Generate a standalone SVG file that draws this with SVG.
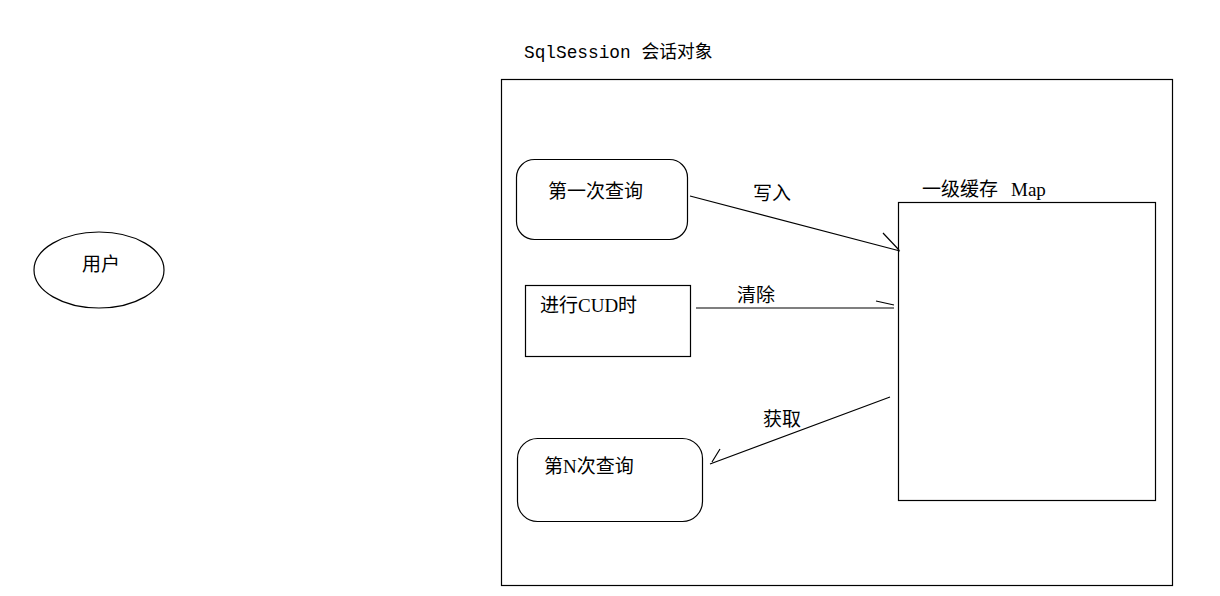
<svg xmlns="http://www.w3.org/2000/svg" width="1220" height="596" viewBox="0 0 1220 596">
<style>
.s{fill:none;stroke:#000;stroke-width:1.2}
.t{font-family:"Liberation Serif","Noto Sans CJK SC",serif;font-size:19px;fill:#000}
.m{font-family:"Liberation Mono","Noto Sans CJK SC",monospace;font-size:17.8px;fill:#000}
</style>
<rect width="1220" height="596" fill="#fff"/>
<g id="user"><ellipse class="s" cx="99" cy="270" rx="65" ry="38"/><text class="t" x="82" y="271">用户</text></g>
<g id="session"><rect class="s" x="501.5" y="79.5" width="671" height="506"/><text class="m" x="524" y="58">SqlSession 会话对象</text></g>
<g id="cache"><rect class="s" x="898.5" y="202.5" width="257" height="298"/><text class="t" x="922" y="196">一级缓存 <tspan x="1011">Map</tspan></text></g>
<g id="first"><rect class="s" x="516.5" y="159.5" width="171" height="80" rx="18"/><text class="t" x="548" y="198">第一次查询</text></g>
<g id="cud"><rect class="s" x="525.5" y="285.5" width="165" height="71"/><text class="t" x="540" y="312">进行CUD时</text></g>
<g id="nth"><rect class="s" x="517.5" y="438.5" width="185" height="83" rx="20"/><text class="t" x="544" y="473">第N次查询</text></g>
<g id="connectors">
<path class="s" d="M690 196 L900 251 M883 233 L899 250"/>
<path class="s" d="M696 308 L894 308 M876 301 L894 305"/>
<path class="s" d="M890 397 L710 464 M720 449 L712 462"/>
<text class="t" x="753" y="200">写入</text>
<text class="t" x="737" y="302">清除</text>
<text class="t" x="763" y="426">获取</text>
</g>
</svg>
